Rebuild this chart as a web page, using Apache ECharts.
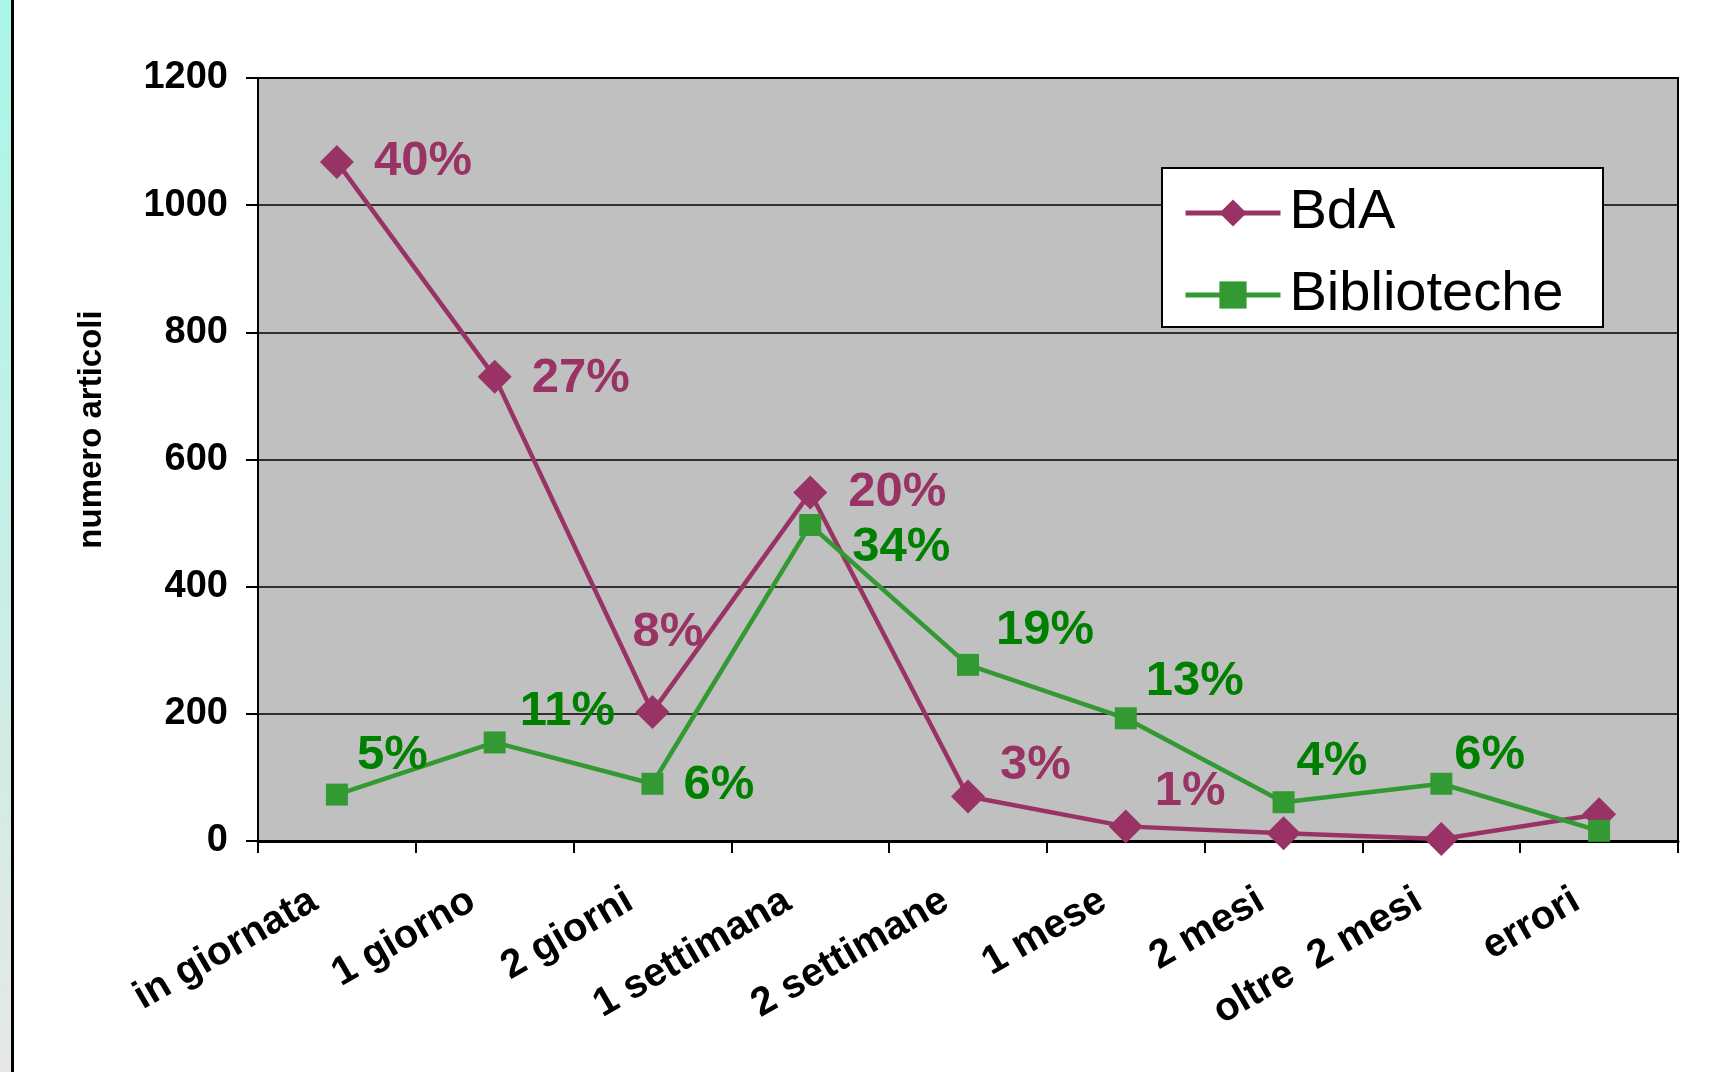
<!DOCTYPE html>
<html>
<head>
<meta charset="utf-8">
<script src="https://cdn.jsdelivr.net/npm/echarts@6/dist/echarts.min.js"></script>
<style>
html,body{margin:0;padding:0;background:#fff;}
#chart{width:1736px;height:1072px;}
</style>
</head>
<body>
<div id="chart"></div>
<script>
const categories = ['in giornata','1 giorno','2 giorni','1 settimana','2 settimane','1 mese','2 mesi','oltre  2 mesi','errori'];
const bdaValues = [1068, 730, 203, 548, 70, 23, 12, 3, 42];
const bibValues = [73, 155, 90, 497, 277, 193, 61, 90, 16];
const bdaPct = ['40%','27%','8%','20%','3%','1%','','',''];
const bibPct = ['5%','11%','6%','34%','19%','13%','4%','6%',''];
const yTicks = [0, 200, 400, 600, 800, 1000, 1200];

// label placement (style only): offset of text left edge / center from the point
const bdaLabelPos = [[37,0],[37,2],[-20,-79],[38,0],[32,-31],[29,-35],[0,0],[0,0],[0,0]];
const bibLabelPos = [[20,-39],[25,-31],[31,2],[42,22],[28,-34],[20,-37],[13,-41],[13,-28],[0,0]];

const FONT = '"Liberation Sans", Arial, sans-serif';
const BDA_COLOR = '#993366';
const BIB_COLOR = '#339933';
const BIB_LABEL = '#008000';
const BDA_SIZE = 34, BIB_SIZE = 22;

function buildData(values, pcts, pos, half, color) {
  return values.map((v, i) => ({
    value: v,
    label: {
      show: pcts[i] !== '',
      formatter: pcts[i],
      position: 'right',
      distance: 0,
      offset: [pos[i][0] - half, pos[i][1]],
      color: color,
      fontSize: 49,
      fontWeight: 'bold',
      fontFamily: FONT
    }
  }));
}

const chart = echarts.init(document.getElementById('chart'), null, {renderer: 'canvas'});
chart.setOption({
  animation: false,
  backgroundColor: '#ffffff',
  graphic: [
    {type: 'rect', shape: {x: 0, y: 0, width: 12, height: 1072}, z: 0,
     style: {fill: new echarts.graphic.LinearGradient(0, 0, 0, 1, [
       {offset: 0, color: '#a9f7e7'}, {offset: 0.5, color: '#c6efe6'}, {offset: 1, color: '#e6e8e6'}])}},
    {type: 'rect', shape: {x: 11, y: 0, width: 3, height: 1072}, z: 0, style: {fill: '#000'}},
    {type: 'rect', shape: {x: 1162, y: 168, width: 441, height: 159}, z: 10,
     style: {fill: '#ffffff', stroke: '#000', lineWidth: 2}}
  ],
  grid: {left: 258, right: 58, top: 78, bottom: 231, show: true,
         backgroundColor: '#c0c0c0', borderColor: '#000', borderWidth: 2},
  legend: {
    orient: 'vertical', left: 1178, top: 180, z: 11,
    itemWidth: 95, itemHeight: 34, itemGap: 26,
    lineStyle: {width: 5},
    textStyle: {fontSize: 56, fontFamily: FONT, color: '#000', padding: [0,0,0,4]},
    data: ['BdA', 'Biblioteche']
  },
  xAxis: {
    type: 'category', data: categories, boundaryGap: true,
    axisLine: {lineStyle: {color: '#000', width: 3}},
    axisTick: {show: true, length: 12, lineStyle: {color: '#000', width: 2}},
    axisLabel: {rotate: 30, margin: 44, interval: 0, color: '#000', fontSize: 40,
                fontWeight: 'bold', fontFamily: FONT, padding: [0, 26, 0, 0]}
  },
  yAxis: {
    type: 'value', min: 0, max: 1200, interval: 200,
    name: 'numero articoli', nameLocation: 'middle', nameRotate: 90, nameGap: 150,
    nameTextStyle: {fontSize: 33, fontWeight: 'bold', fontFamily: FONT, color: '#000',
                    padding: [0, 0, 0, 60]},
    axisLine: {show: true, lineStyle: {color: '#000', width: 2}},
    axisTick: {show: true, length: 12, lineStyle: {color: '#000', width: 2}},
    splitLine: {show: true, lineStyle: {color: '#000', width: 1.5}},
    axisLabel: {margin: 30, color: '#000', fontSize: 38, fontWeight: 'bold', fontFamily: FONT,
                formatter: v => String(v)}
  },
  series: [
    {name: 'BdA', type: 'line', data: buildData(bdaValues, bdaPct, bdaLabelPos, BDA_SIZE/2, BDA_COLOR),
     symbol: 'diamond', symbolSize: BDA_SIZE, lineStyle: {color: BDA_COLOR, width: 4.5},
     itemStyle: {color: BDA_COLOR}},
    {name: 'Biblioteche', type: 'line', data: buildData(bibValues, bibPct, bibLabelPos, BIB_SIZE/2, BIB_LABEL),
     symbol: 'rect', symbolSize: BIB_SIZE, lineStyle: {color: BIB_COLOR, width: 4.5},
     itemStyle: {color: BIB_COLOR}}
  ]
});
</script>
</body>
</html>
